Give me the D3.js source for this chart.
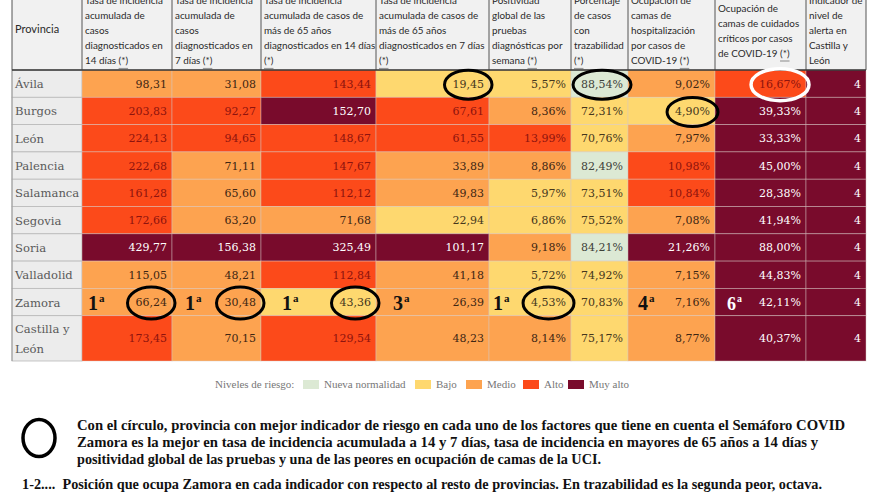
<!DOCTYPE html>
<html><head><meta charset="utf-8">
<script src="https://cdn.jsdelivr.net/npm/d3@7"></script>
<style>body{margin:0;background:#fff}svg{display:block}</style>
</head><body><svg id="c" width="880" height="495"></svg>
<script>
// ---------- DATA ----------
const provincias = ["Ávila","Burgos","León","Palencia","Salamanca","Segovia","Soria","Valladolid","Zamora","Castilla y León"];
const ia14      = [98.31,203.83,224.13,222.68,161.28,172.66,429.77,115.05,66.24,173.45];
const ia7       = [31.08,92.27,94.65,71.11,65.60,63.20,156.38,48.21,30.48,70.15];
const ia65_14   = [143.44,152.70,148.67,147.67,112.12,71.68,325.49,112.84,43.36,129.54];
const ia65_7    = [19.45,67.61,61.55,33.89,49.83,22.94,101.17,41.18,26.39,48.23];
const positividad = [5.57,8.36,13.99,8.86,5.97,6.86,9.18,5.72,4.53,8.14];
const trazabilidad = [88.54,72.31,70.76,82.49,73.51,75.52,84.21,74.92,70.83,75.17];
const hospitalizacion = [9.02,4.90,7.97,10.98,10.84,7.08,21.26,7.15,7.16,8.77];
const uci       = [16.67,39.33,33.33,45.00,28.38,41.94,88.00,44.83,42.11,40.37];
const alerta    = [4,4,4,4,4,4,4,4,4,4];

// risk levels: 0 Nueva normalidad, 1 Bajo, 2 Medio, 3 Alto, 4 Muy alto
const lvIa14   = [2,3,3,3,3,3,4,2,2,3];
const lvIa7    = [2,3,3,2,2,2,4,2,2,2];
const lvIa65_14= [3,4,3,3,3,2,4,3,1,3];
const lvIa65_7 = [1,3,3,2,2,1,4,2,2,2];
const lvPos    = [1,2,3,2,1,1,2,1,1,2];
const lvTraz   = [0,1,1,0,1,1,0,1,1,1];
const lvHosp   = [2,1,2,3,3,2,4,2,2,2];
const lvUci    = [3,4,4,4,4,4,4,4,4,4];
const lvAlerta = [4,4,4,4,4,4,4,4,4,4];

const niveles = ["Nueva normalidad","Bajo","Medio","Alto","Muy alto"];

const headers = [
  ["Provincia"],
  ["Tasa de incidencia","acumulada de","casos","diagnosticados en","14 días (*)"],
  ["Tasa de incidencia","acumulada de","casos","diagnosticados en","7 días (*)"],
  ["Tasa de incidencia","acumulada de casos de","más de 65 años","diagnosticados en 14 días","(*)"],
  ["Tasa de incidencia","acumulada de casos de","más de 65 años","diagnosticados en 7 días","(*)"],
  ["Positividad","global de las","pruebas","diagnósticas por","semana (*)"],
  ["Porcentaje","de casos","con","trazabilidad","(*)"],
  ["Ocupación de","camas de","hospitalización","por casos de","COVID-19 (*)"],
  ["Ocupación de","camas de cuidados","críticos por casos","de COVID-19 (*)"],
  ["Indicador de","nivel de","alerta en","Castilla y","León"]
];

// best-province circles [row, col] (col index of data column 1..9)
const mejores = [[0,4],[0,6],[1,7],[8,1],[8,2],[8,3],[8,5]];
const mejorBlanco = [[0,8]];
// Zamora position in each indicator
const posZamora = ["1ª","1ª","1ª","3ª","1ª","","4ª","6ª",""];

const nota1 = [
  "Con el círculo, provincia con mejor indicador de riesgo en cada uno de los factores que tiene en cuenta el Semáforo COVID",
  "Zamora es la mejor en tasa de incidencia acumulada a 14 y 7 días, tasa de incidencia en mayores de 65 años a 14 días y",
  "positividad global de las pruebas y una de las peores en ocupación de camas de la UCI."
];
const nota2 = "1-2....  Posición que ocupa Zamora en cada indicador con respecto al resto de provincias. En trazabilidad es la segunda peor, octava.";

// ---------- LAYOUT / STYLE ----------
const es = d3.formatLocale({decimal:",",thousands:".",grouping:[3],currency:["","€"]});
const f2 = es.format(".2f");
const fmtNum = v => f2(v), fmtPct = v => f2(v)+"%", fmtInt = v => String(v);

const cols = [
  {v:ia14, lv:lvIa14, f:fmtNum},
  {v:ia7, lv:lvIa7, f:fmtNum},
  {v:ia65_14, lv:lvIa65_14, f:fmtNum},
  {v:ia65_7, lv:lvIa65_7, f:fmtNum},
  {v:positividad, lv:lvPos, f:fmtPct},
  {v:trazabilidad, lv:lvTraz, f:fmtPct},
  {v:hospitalizacion, lv:lvHosp, f:fmtPct},
  {v:uci, lv:lvUci, f:fmtPct},
  {v:alerta, lv:lvAlerta, f:fmtInt}
];

const colEdges = [12,82,172,261,376,489,571,628,715,806,866];
const xL = d3.scaleOrdinal().domain(d3.range(10)).range(colEdges.slice(0,10));
const xR = d3.scaleOrdinal().domain(d3.range(10)).range(colEdges.slice(1));
const rowUnits = provincias.map((p,i)=> i===provincias.length-1 ? 1.66 : 1);
const cum = [0]; rowUnits.forEach(u=>cum.push(cum[cum.length-1]+u));
const y = d3.scaleLinear().domain([0,cum[cum.length-1]]).range([70,361]);
const rowTop = i => y(cum[i]), rowBot = i => y(cum[i+1]);

const color = d3.scaleOrdinal().domain(d3.range(5)).range(["#dce9d4","#fed86f","#fda350","#fc4a1a","#790b2c"]);
const tcolor = d3.scaleOrdinal().domain(d3.range(5)).range(["#3c4038","#45361c","#3d2613","#8e130e","#ffffff"]);

const svg = d3.select("#c");
svg.append("rect").attr("width",880).attr("height",495).attr("fill","#fff");

// header
const hTop = -8, hBot = 70;
svg.append("rect").attr("x",12).attr("y",hTop).attr("width",866-12).attr("height",hBot-hTop).attr("fill","#f1f1f1");
const hg = svg.append("g");
headers.forEach((lines,c)=>{
  const lh = 15, mid = 30.5;
  const n = lines.length;
  lines.forEach((t,k)=>{
    const cy = c===0 ? 29 : mid + (k-(n-1)/2)*lh;
    const txt = hg.append("text").attr("x", xL(c)+3).attr("y", cy+3.6)
      .attr("font-family","Lato, 'Open Sans', sans-serif").attr("font-size", c===0?11:9.9)
      .attr("fill","#2a2a2a").text(t);
    const idx = t.indexOf("(*)");
    if (idx>=0) {
      const node = txt.node();
      const sx = node.getStartPositionOfChar(idx).x;
      const w = node.getSubStringLength(idx,3);
      hg.append("line").attr("x1",sx).attr("x2",sx+w).attr("y1",cy+8).attr("y2",cy+8)
        .attr("stroke","#9a9a9a").attr("stroke-width",1.2);
    }
  });
});
// header separators
d3.range(11).forEach(c=>{
  svg.append("line").attr("x1",colEdges[c]).attr("x2",colEdges[c]).attr("y1",hTop).attr("y2",hBot)
    .attr("stroke","#555").attr("stroke-width",1);
});

// body cells
const body = svg.append("g");
provincias.forEach((p,r)=>{
  const t=rowTop(r), b=rowBot(r);
  body.append("rect").attr("x",xL(0)).attr("y",t).attr("width",xR(0)-xL(0)).attr("height",b-t)
    .attr("fill","#ececec").attr("stroke","#b9b9b9").attr("stroke-width",0.8);
  const parts = p==="Castilla y León" ? ["Castilla y","León"] : [p];
  parts.forEach((s,k)=>{
    body.append("text").attr("x",15).attr("y",(t+b)/2 + 4.5 + (k-(parts.length-1)/2)*19.5)
      .attr("font-family","'DejaVu Serif', serif").attr("font-size",11.6).attr("fill","#5a5a5a").text(s);
  });
  cols.forEach((col,ci)=>{
    const c=ci+1, lv=col.lv[r];
    body.append("rect").attr("x",xL(c)).attr("y",t).attr("width",xR(c)-xL(c)).attr("height",b-t)
      .attr("fill",color(lv)).attr("stroke","rgba(215,200,195,0.55)").attr("stroke-width",0.8);
    body.append("text").attr("class",`v r${r}c${c}`).attr("x",xR(c)-5).attr("y",(t+b)/2+4)
      .attr("text-anchor","end").attr("font-family","'DejaVu Serif', serif").attr("font-size",11)
      .attr("fill",tcolor(lv)).text(col.f(col.v[r]));
  });
});
// outer borders
svg.append("line").attr("x1",12).attr("x2",12).attr("y1",70).attr("y2",361).attr("stroke","#999");
svg.append("line").attr("x1",12).attr("x2",866).attr("y1",70).attr("y2",70).attr("stroke","#333").attr("stroke-width",1.6);

// annotations: ellipses
const ann = svg.append("g");
function ring(r,c,stroke,sw,ry){
  const bb = svg.select(`.r${r}c${c}`).node().getBBox();
  ann.append("ellipse").attr("cx",bb.x+bb.width/2).attr("cy",(rowTop(r)+rowBot(r))/2+1)
    .attr("rx",bb.width/2+8).attr("ry",ry)
    .attr("fill","none").attr("stroke",stroke).attr("stroke-width",sw);
}
mejores.forEach(([r,c])=>ring(r,c,"#000",3, r===8?16:14.5));
mejorBlanco.forEach(([r,c])=>ring(r,c,"#fff",3.5,16));

// Zamora positions
const zr = provincias.indexOf("Zamora");
const posDx = [6,13,21,17,4,0,10,12,0];
posZamora.forEach((s,ci)=>{
  if(!s) return;
  const c=ci+1, lv=cols[ci].lv[zr];
  const fs = lv===4?18:20;
  const tx = ann.append("text").attr("x",xL(c)+posDx[ci]).attr("y",(rowTop(zr)+rowBot(zr))/2+8)
    .attr("font-family","'Liberation Serif', serif").attr("font-weight","bold")
    .attr("font-size", fs).attr("fill", lv===4?"#fff":"#111");
  tx.append("tspan").text(s.slice(0,-1));
  tx.append("tspan").attr("font-size",fs*0.55).attr("dy",-fs*0.42).attr("dx",1).text("a");
});

// legend
const lg = svg.append("g").attr("font-family","'Liberation Serif', serif").attr("font-size",11).attr("fill","#777");
lg.append("text").attr("x",215).attr("y",388).text("Niveles de riesgo:");
const legX = [303,415,466,523,568];
niveles.forEach((n,i)=>{
  lg.append("rect").attr("x",legX[i]).attr("y",380).attr("width",16).attr("height",9).attr("fill",color(i));
  lg.append("text").attr("x",legX[i]+21).attr("y",388).text(n);
});

// notes
const ng = svg.append("g").attr("font-family","'Liberation Serif', serif").attr("font-weight","bold").attr("font-size",15).attr("fill","#111");
ng.append("ellipse").attr("cx",39).attr("cy",438).attr("rx",16).attr("ry",18.5).attr("fill","none").attr("stroke","#000").attr("stroke-width",3.5);
const nLen = [768,741,524];
nota1.forEach((t,i)=>{
  ng.append("text").attr("x",77).attr("y",430+i*16.8).attr("textLength",nLen[i]).attr("lengthAdjust","spacingAndGlyphs").text(t);
});
ng.append("text").attr("x",22).attr("y",489).attr("textLength",800).attr("lengthAdjust","spacingAndGlyphs").style("white-space","pre").text(nota2);
</script></body></html>
